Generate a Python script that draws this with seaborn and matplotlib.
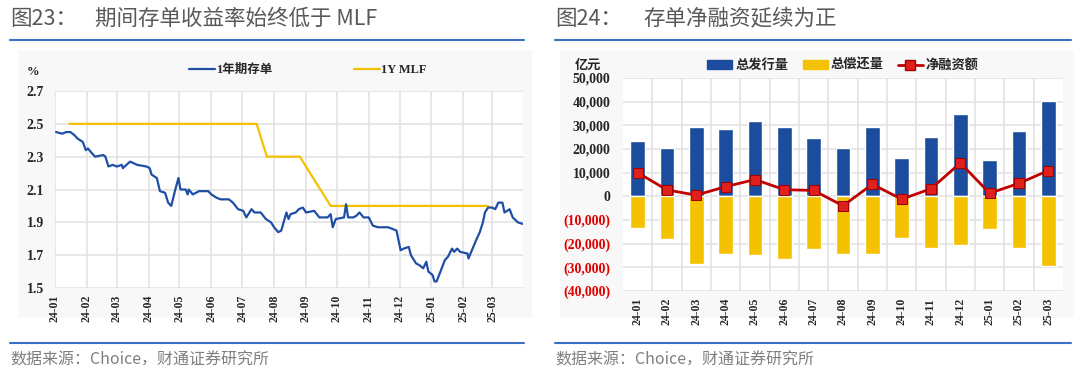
import numpy as np
import pandas as pd
import matplotlib
matplotlib.use("Agg")
import matplotlib.pyplot as plt
import matplotlib.dates as mdates
from matplotlib.font_manager import FontProperties
from matplotlib.lines import Line2D
from matplotlib.patches import Patch, Rectangle
import seaborn as sns

# ---- data: 1Y CD yield ----
cd_dates = [
    "2024-01-02", "2024-01-08", "2024-01-12", "2024-01-16", "2024-01-20", "2024-01-23",
    "2024-01-28", "2024-01-31", "2024-02-02", "2024-02-06", "2024-02-09", "2024-02-17",
    "2024-02-19", "2024-02-22", "2024-02-26", "2024-03-01", "2024-03-06", "2024-03-07",
    "2024-03-14", "2024-03-21", "2024-03-30", "2024-04-02", "2024-04-04", "2024-04-09",
    "2024-04-12", "2024-04-17", "2024-04-20", "2024-04-23", "2024-04-27", "2024-04-30",
    "2024-05-02", "2024-05-07", "2024-05-09", "2024-05-10", "2024-05-14", "2024-05-20",
    "2024-05-29", "2024-06-01", "2024-06-06", "2024-06-10", "2024-06-18", "2024-06-22",
    "2024-06-27", "2024-07-02", "2024-07-05", "2024-07-10", "2024-07-13", "2024-07-19",
    "2024-07-24", "2024-07-29", "2024-08-01", "2024-08-05", "2024-08-08", "2024-08-13",
    "2024-08-15", "2024-08-17", "2024-08-22", "2024-08-25", "2024-08-29", "2024-09-01",
    "2024-09-09", "2024-09-14", "2024-09-22", "2024-09-25", "2024-09-27", "2024-09-30",
    "2024-10-08", "2024-10-10", "2024-10-12", "2024-10-17", "2024-10-20", "2024-10-23",
    "2024-10-27", "2024-11-01", "2024-11-05", "2024-11-10", "2024-11-13", "2024-11-20",
    "2024-11-28", "2024-12-02", "2024-12-05", "2024-12-10", "2024-12-12", "2024-12-17",
    "2024-12-20", "2024-12-24", "2024-12-27", "2024-12-29", "2025-01-02", "2025-01-04",
    "2025-01-06", "2025-01-11", "2025-01-14", "2025-01-17", "2025-01-21", "2025-01-23",
    "2025-01-26", "2025-01-29", "2025-02-05", "2025-02-06", "2025-02-10", "2025-02-14",
    "2025-02-17", "2025-02-20", "2025-02-22", "2025-02-25", "2025-03-01", "2025-03-04",
    "2025-03-07", "2025-03-11", "2025-03-13", "2025-03-18", "2025-03-21", "2025-03-26",
    "2025-03-31",
]
cd_yield = [
    2.45, 2.44, 2.45, 2.45, 2.43, 2.41,
    2.39, 2.34, 2.35, 2.32, 2.30, 2.31,
    2.30, 2.24, 2.25, 2.24, 2.25, 2.23,
    2.27, 2.25, 2.24, 2.23, 2.19, 2.17,
    2.09, 2.08, 2.02, 2.00, 2.10, 2.17,
    2.10, 2.10, 2.07, 2.10, 2.07, 2.09,
    2.09, 2.07, 2.05, 2.04, 2.04, 2.02,
    1.98, 1.97, 1.93, 1.98, 1.96, 1.96,
    1.92, 1.90, 1.87, 1.84, 1.85, 1.96,
    1.92, 1.95, 1.96, 1.98, 1.99, 1.96,
    1.97, 1.93, 1.93, 1.95, 1.87, 1.92,
    1.93, 2.01, 1.93, 1.93, 1.94, 1.96,
    1.93, 1.93, 1.88, 1.87, 1.87, 1.87,
    1.85, 1.73, 1.74, 1.75, 1.70, 1.65,
    1.64, 1.62, 1.66, 1.60, 1.58, 1.54,
    1.54, 1.62, 1.67, 1.69, 1.74, 1.72,
    1.74, 1.72, 1.71, 1.68, 1.74, 1.80,
    1.84, 1.90, 1.96, 1.99, 1.99, 1.98,
    2.02, 2.02, 1.96, 1.98, 1.93, 1.90,
    1.89,
]

# 1Y MLF rate on operation dates
mlf_dates = [
    "2024-01-15", "2024-02-18", "2024-03-15", "2024-04-15", "2024-05-15", "2024-06-17",
    "2024-07-15", "2024-07-25", "2024-08-26", "2024-09-25", "2024-10-25", "2024-11-25",
    "2024-12-25", "2025-01-24", "2025-02-25",
]
mlf_rate = [2.5, 2.5, 2.5, 2.5, 2.5, 2.5, 2.5, 2.3, 2.3, 2.0, 2.0, 2.0, 2.0, 2.0, 2.0]

# ---- data: CD issuance / repayment / net financing (100m yuan) ----
months = ["24-01", "24-02", "24-03", "24-04", "24-05", "24-06", "24-07", "24-08",
          "24-09", "24-10", "24-11", "24-12", "25-01", "25-02", "25-03"]
issuance = [23400, 20600, 29200, 28500, 31800, 29200, 24800, 20400,
            29200, 16300, 25200, 34600, 15200, 27500, 40300]
repayment = [-13400, -18000, -28700, -24400, -24800, -26300, -22300, -24400,
             -24200, -17500, -22000, -20600, -13900, -22000, -29400]
net_financing = [10000, 2700, 500, 4100, 7100, 2800, 2500, -4000,
                 5100, -1200, 3200, 14100, 1300, 5500, 10900]

# ---- style ----
BLUE_LINE = "#1f4fa5"
YELLOW_LINE = "#f5c000"
BAR_BLUE = "#1c4c9e"
BAR_YELLOW = "#f4c200"
NET_RED = "#c00000"
GRID = "#e3e3e3"
TITLE_GRAY = "#595959"
RULE_BLUE = "#3c6fc4"

sns.set_style("white")
plt.rcParams["font.family"] = ["Noto Sans CJK SC", "DejaVu Sans"]
serif_cjk = ["Liberation Serif", "Noto Sans CJK SC"]
ytick_font = FontProperties(family=serif_cjk, weight="bold", size=10)
xtick_font = FontProperties(family=serif_cjk, weight="bold", size=8.5)
leg_font = FontProperties(family=serif_cjk, weight="bold", size=9)

fig = plt.figure(figsize=(10.8, 3.75), dpi=100)

# light panels behind the two charts
for x0, w in [(18, 514), (560, 514)]:
    fig.patches.append(Rectangle((x0 / 1080, 1 - 318 / 375), w / 1080, 268 / 375,
                                 transform=fig.transFigure, facecolor="#f8f8f8",
                                 edgecolor="none", zorder=-10))

# titles, rules and source notes
for x_num, x_txt, num, txt, x0, x1 in [
    (10, 95, "图23：", "期间存单收益率始终低于 MLF", 10, 524),
    (555, 643, "图24：", "存单净融资延续为正", 555, 1071),
]:
    fig.text(x_num / 1080, 1 - 19 / 375, num, fontsize=15.5, color=TITLE_GRAY, va="center")
    fig.text(x_txt / 1080, 1 - 19 / 375, txt, fontsize=15.5, color=TITLE_GRAY, va="center")
    fig.add_artist(Line2D([x0 / 1080, x1 / 1080], [1 - 40 / 375] * 2, color=RULE_BLUE,
                          lw=1.5, transform=fig.transFigure))
    fig.add_artist(Line2D([x0 / 1080, x1 / 1080], [1 - 343 / 375] * 2, color=RULE_BLUE,
                          lw=1.5, transform=fig.transFigure))
    fig.text(x0 / 1080, 1 - 360 / 375, "数据来源：Choice，财通证券研究所", fontsize=11.5,
             color="#7f7f7f", va="center")

# ---- left chart: CD yield vs MLF ----
ax1 = fig.add_axes([55 / 1080, 1 - 288 / 375, 468 / 1080, 197 / 375])
cd_df = pd.DataFrame({"date": pd.to_datetime(cd_dates), "value": cd_yield})
mlf_df = pd.DataFrame({"date": pd.to_datetime(mlf_dates), "value": mlf_rate})
sns.lineplot(data=cd_df, x="date", y="value", color=BLUE_LINE, lw=1.6, ax=ax1, zorder=3)
sns.lineplot(data=mlf_df, x="date", y="value", color=YELLOW_LINE, lw=1.6, ax=ax1, zorder=2)
ax1.set_xlim(pd.Timestamp("2024-01-01"), pd.Timestamp("2025-03-31"))
ax1.set_ylim(1.5, 2.7)
ax1.set_yticks(np.arange(1.5, 2.71, 0.2))
ax1.yaxis.set_major_formatter(plt.FormatStrFormatter("%.1f"))
ax1.xaxis.set_major_locator(mdates.MonthLocator())
ax1.xaxis.set_major_formatter(mdates.DateFormatter("%y-%m"))
ax1.grid(True, color=GRID, lw=1.2)
ax1.set_xlabel("")
ax1.set_ylabel("")
for s in ax1.spines.values():
    s.set_visible(False)
ax1.tick_params(length=0, pad=8)
ax1.tick_params(axis="x", pad=5)
for lab in ax1.get_xticklabels():
    lab.set_fontproperties(xtick_font)
    lab.set_rotation(90)
for lab in ax1.get_yticklabels():
    lab.set_fontproperties(ytick_font)
ax1.text(-0.047, 1.095, "%", transform=ax1.transAxes, fontproperties=leg_font,
         ha="center", va="center")
ax1.legend(handles=[Line2D([], [], color=BLUE_LINE, lw=1.6),
                    Line2D([], [], color=YELLOW_LINE, lw=1.6)],
           labels=["1年期存单", "1Y MLF"], loc="center", bbox_to_anchor=(0.54, 1.107),
           ncol=2, frameon=False, handlelength=2.1, handletextpad=0.1,
           columnspacing=6.5, prop=leg_font)

# ---- right chart: CD issuance and net financing ----
ax2 = fig.add_axes([623 / 1080, 1 - 291 / 375, 440 / 1080, 213 / 375])
pos = np.arange(len(months))
sns.barplot(x=pos, y=issuance, color=BAR_BLUE, width=0.5, saturation=1, ax=ax2,
            native_scale=True, zorder=2)
sns.barplot(x=pos, y=repayment, color=BAR_YELLOW, width=0.5, saturation=1, ax=ax2,
            native_scale=True, zorder=2)
sns.lineplot(x=pos, y=net_financing, color=NET_RED, lw=2, marker="s", markersize=6.5,
             markerfacecolor="#e0201c", markeredgecolor="#a00000", ax=ax2, zorder=4)
ax2.set_xlim(-0.5, len(months) - 0.5)
ax2.set_ylim(-40000, 50000)
yvals = list(range(-40000, 50001, 10000))
ax2.set_yticks(yvals)
ax2.set_yticklabels([f"{v:,}" if v >= 0 else f"({-v:,})" for v in yvals])
ax2.set_xticks(pos)
ax2.set_xticklabels(months, rotation=90)
ax2.set_xticks(pos[:-1] + 0.5, minor=True)
ax2.grid(False)
ax2.grid(True, axis="y", which="major", color=GRID, lw=1.2, zorder=0)
ax2.grid(True, axis="x", which="minor", color=GRID, lw=1.2, zorder=0)
ax2.set_axisbelow(True)
for s in ax2.spines.values():
    s.set_visible(False)
ax2.tick_params(which="both", length=0, pad=9)
ax2.tick_params(axis="x", pad=5)
for lab in ax2.get_xticklabels():
    lab.set_fontproperties(xtick_font)
for lab, v in zip(ax2.get_yticklabels(), yvals):
    lab.set_fontproperties(ytick_font)
    if v < 0:
        lab.set_color("#e00000")
ax2.text(-0.08, 1.061, "亿元", transform=ax2.transAxes, fontsize=9.5, fontweight="bold",
         ha="center", va="center")
ax2.legend(handles=[Patch(color=BAR_BLUE), Patch(color=BAR_YELLOW),
                    Line2D([], [], color=NET_RED, lw=2, marker="s", markersize=6.5,
                           markerfacecolor="#e0201c", markeredgecolor="#a00000")],
           labels=["总发行量", "总偿还量", "净融资额"], loc="center",
           bbox_to_anchor=(0.5, 1.061), ncol=3, frameon=False, handlelength=1.9,
           handleheight=0.6, handletextpad=0.2, columnspacing=1.1,
           prop=FontProperties(family=["Noto Sans CJK SC"], weight="bold", size=9.5))

fig.savefig("out.png", dpi=100)
